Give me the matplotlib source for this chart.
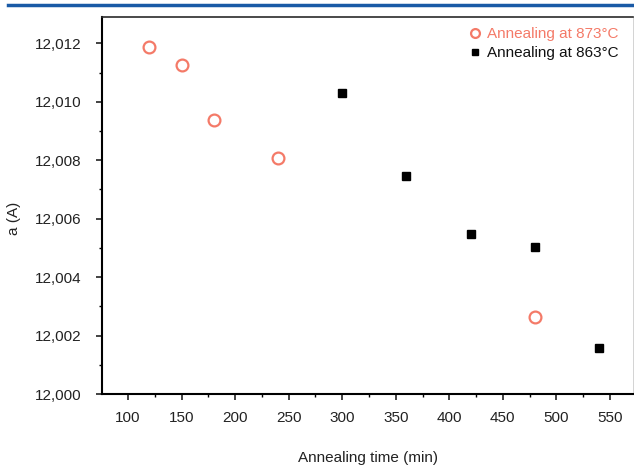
import matplotlib
matplotlib.use('Agg')
from matplotlib import pyplot as plt
from matplotlib.lines import Line2D
from matplotlib.ticker import MultipleLocator, FuncFormatter

plt.rcParams['font.family'] = ['Liberation Sans', 'DejaVu Sans']

# annealing at 873 C (open circles)
time_873 = [120, 150, 180, 240, 480]
a_873 = [12.01187, 12.01127, 12.00937, 12.00806, 12.00264]

# annealing at 863 C (filled squares)
time_863 = [300, 360, 420, 480, 540]
a_863 = [12.01030, 12.00746, 12.00547, 12.00502, 12.00156]

red = '#f47a68'

fig = plt.figure(figsize=(6.34, 4.66), dpi=100)
ax = fig.add_axes([102 / 634, 72 / 466, 531 / 634, 377 / 466])

ax.plot(time_873, a_873, 'o', ms=8.5, mfc='white', mec=red, mew=1.6,
        label='Annealing at 873°C', zorder=3)
ax.plot(time_863, a_863, 's', ms=6, color='black',
        label='Annealing at 863°C', zorder=3)

ax.set_xlim(75.7, 571.5)
ax.set_ylim(12.0, 12.0129)

ax.xaxis.set_major_locator(MultipleLocator(50))
ax.xaxis.set_minor_locator(MultipleLocator(25))
ax.yaxis.set_major_locator(MultipleLocator(0.002))
ax.yaxis.set_minor_locator(MultipleLocator(0.001))
ax.yaxis.set_major_formatter(FuncFormatter(lambda v, p: f'{v:.3f}'.replace('.', ',')))

ax.tick_params(which='major', direction='out', length=4.5, width=1.2, labelsize=11,
               colors='#222222', top=False, right=False)
ax.tick_params(which='minor', direction='out', length=2.5, width=1.0,
               top=False, right=False)
ax.tick_params(axis='x', which='major', pad=8)
ax.tick_params(axis='y', which='major', pad=10)

for side in ['left', 'bottom']:
    ax.spines[side].set_linewidth(1.5)
    ax.spines[side].set_color('black')
ax.spines['top'].set_linewidth(1.2)
ax.spines['top'].set_color('#2a2a2a')
ax.spines['right'].set_linewidth(0.6)
ax.spines['right'].set_color('#cccccc')

ax.set_xlabel('Annealing time (min)', fontsize=11, color='#222222', va='center')
ax.set_ylabel('a (A)', fontsize=11, color='#222222', va='center')
ax.xaxis.set_label_coords(0.5, -0.17)
ax.yaxis.set_label_coords(-0.166, 0.467)

leg = ax.legend(loc='upper right', bbox_to_anchor=(0.985, 0.99), frameon=False,
                fontsize=11, handlelength=0.6, handletextpad=0.5,
                borderaxespad=0, labelspacing=0.35, markerscale=0.75)
leg.get_texts()[0].set_color(red)
leg.get_texts()[1].set_color('#111111')

# blue rule along the top of the page
fig.add_artist(Line2D([8 / 634, 1.0], [1 - 5 / 466, 1 - 5 / 466],
                      color='#1a5aa6', lw=2.5, transform=fig.transFigure))

fig.savefig('out.png', dpi=100)
